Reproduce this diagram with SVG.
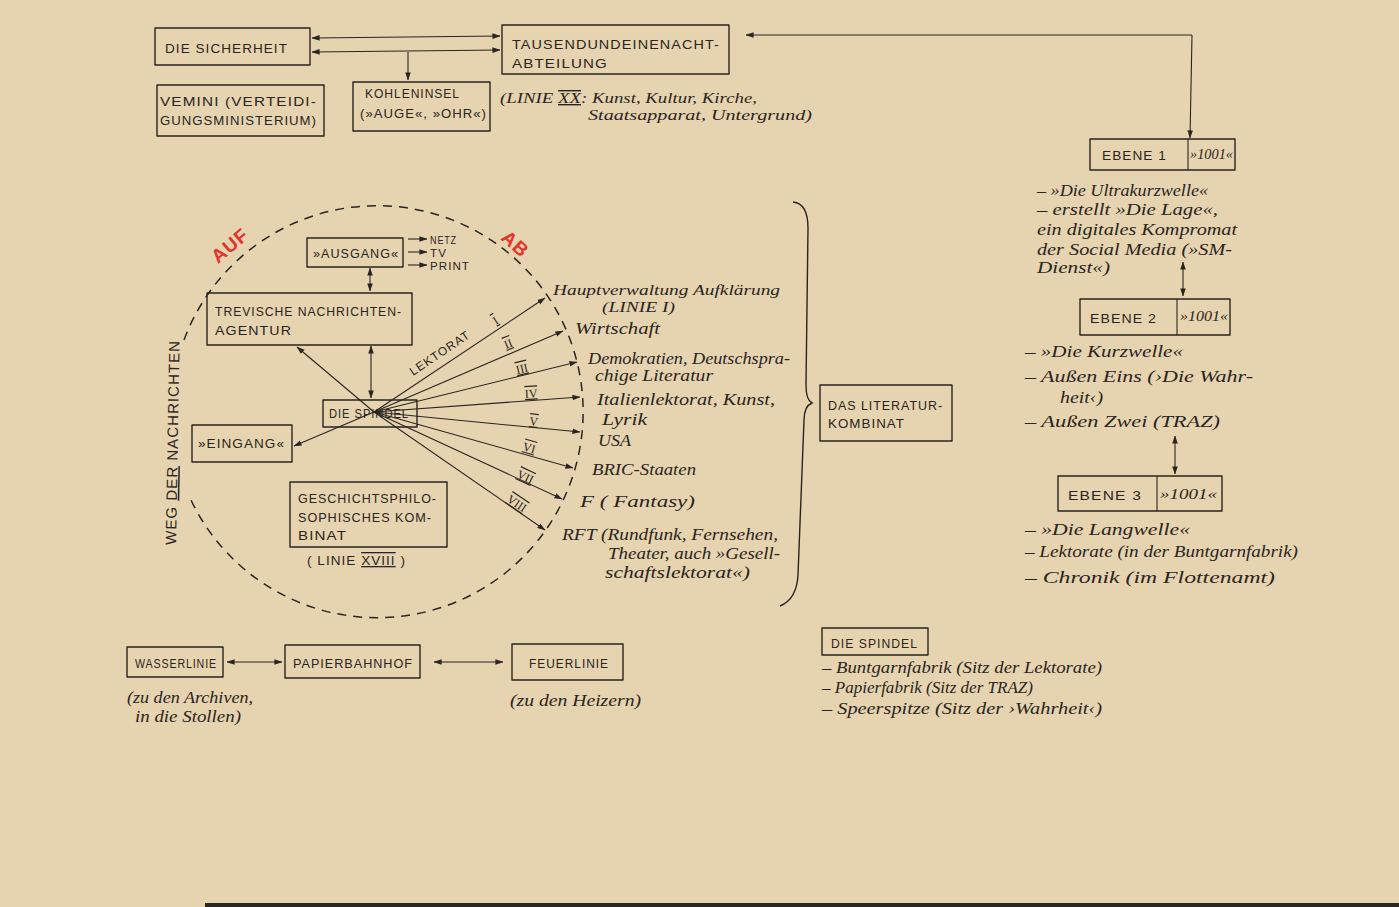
<svg xmlns="http://www.w3.org/2000/svg" width="1399" height="907" viewBox="0 0 1399 907">
<defs>
<style>
.bx{fill:none;stroke:#2a2521;stroke-width:1.4;stroke-linejoin:round}
.ln{fill:none;stroke:#2a2521;stroke-width:1.1}
.cap{font-family:"Liberation Sans",Arial,sans-serif;font-size:13px;fill:#2a2521;letter-spacing:1px}
.scr{font-family:"Liberation Serif","Times New Roman",serif;font-style:italic;font-size:16px;fill:#2a2521}
.rom{font-family:"Liberation Serif",serif;font-size:12px;fill:#2a2521;text-decoration:underline overline}
.red{font-family:"Liberation Sans",Arial,sans-serif;font-weight:bold;font-size:19px;fill:#e3342b;letter-spacing:1px}
.dec{text-decoration:underline overline}
</style>
<marker id="ah" viewBox="0 0 10 7" refX="9.5" refY="3.5" markerWidth="8" markerHeight="6" orient="auto-start-reverse" markerUnits="userSpaceOnUse">
<path d="M0,0 L10,3.5 L0,7 z" fill="#2a2521"/>
</marker>
</defs>
<rect x="0" y="0" width="1399" height="907" fill="#e6d3af"/>
<rect x="205" y="903" width="1194" height="4" fill="#2a2520"/>

<g id="connectors">
<line class="ln" x1="312" y1="38" x2="500" y2="36" marker-start="url(#ah)" marker-end="url(#ah)"/>
<line class="ln" x1="312" y1="52" x2="500" y2="50" marker-start="url(#ah)" marker-end="url(#ah)"/>
<line class="ln" x1="408" y1="52" x2="408" y2="80" marker-end="url(#ah)"/>
<line class="ln" x1="1192" y1="35" x2="746" y2="35" marker-end="url(#ah)"/>
<line class="ln" x1="1192" y1="35" x2="1190" y2="138" marker-end="url(#ah)"/>
<line class="ln" x1="1183" y1="262" x2="1183" y2="296" marker-start="url(#ah)" marker-end="url(#ah)"/>
<line class="ln" x1="1175" y1="436" x2="1175" y2="474" marker-start="url(#ah)" marker-end="url(#ah)"/>
<line class="ln" x1="408" y1="239" x2="427" y2="239" marker-end="url(#ah)"/>
<line class="ln" x1="408" y1="252" x2="427" y2="252" marker-end="url(#ah)"/>
<line class="ln" x1="408" y1="265" x2="427" y2="265" marker-end="url(#ah)"/>
<line class="ln" x1="370" y1="268" x2="370" y2="291" marker-start="url(#ah)" marker-end="url(#ah)"/>
<line class="ln" x1="371" y1="346" x2="371" y2="398" marker-start="url(#ah)" marker-end="url(#ah)"/>
<line class="ln" x1="374" y1="412" x2="297" y2="347" marker-end="url(#ah)"/>
<line class="ln" x1="374" y1="412" x2="294" y2="446" marker-end="url(#ah)"/>
<line class="ln" x1="374" y1="412" x2="545" y2="298" marker-end="url(#ah)"/>
<line class="ln" x1="374" y1="412" x2="563" y2="331" marker-end="url(#ah)"/>
<line class="ln" x1="374" y1="412" x2="577" y2="362" marker-end="url(#ah)"/>
<line class="ln" x1="374" y1="412" x2="580" y2="397" marker-end="url(#ah)"/>
<line class="ln" x1="374" y1="412" x2="580" y2="432" marker-end="url(#ah)"/>
<line class="ln" x1="374" y1="412" x2="573" y2="468" marker-end="url(#ah)"/>
<line class="ln" x1="374" y1="412" x2="562" y2="499" marker-end="url(#ah)"/>
<line class="ln" x1="374" y1="412" x2="545" y2="530" marker-end="url(#ah)"/>
<line class="ln" x1="227" y1="662" x2="282" y2="662" marker-start="url(#ah)" marker-end="url(#ah)"/>
<line class="ln" x1="434" y1="662" x2="503" y2="662" marker-start="url(#ah)" marker-end="url(#ah)"/>
</g>

<g id="weg-der-nachrichten">
<path d="M184,340 A206,206 0 1 1 191,500" fill="none" stroke="#2a2521" stroke-width="1.5" stroke-dasharray="9 7"/>
<text class="cap" transform="translate(176,545) rotate(-89)" textLength="205" lengthAdjust="spacingAndGlyphs" style="font-size:15px">WEG <tspan style="text-decoration:underline">DER</tspan> NACHRICHTEN</text>
<text class="red" transform="translate(218,264) rotate(-40)">AUF</text>
<text class="red" transform="translate(500,239) rotate(42)">AB</text>
</g>

<g id="die-sicherheit">
<rect class="bx" x="155" y="28" width="155" height="37"/>
<text class="cap" x="165" y="53" textLength="123" lengthAdjust="spacingAndGlyphs">DIE SICHERHEIT</text>
</g>
<g id="vemini">
<rect class="bx" x="157" y="85" width="167" height="51"/>
<text class="cap" x="160" y="106" textLength="157" lengthAdjust="spacingAndGlyphs">VEMINI (VERTEIDI-</text>
<text class="cap" x="160" y="125" textLength="157" lengthAdjust="spacingAndGlyphs">GUNGSMINISTERIUM)</text>
</g>
<g id="kohleninsel">
<rect class="bx" x="353" y="82" width="137" height="49"/>
<text class="cap" x="365" y="98" textLength="95" lengthAdjust="spacingAndGlyphs">KOHLENINSEL</text>
<text class="cap" x="360" y="118" textLength="127" lengthAdjust="spacingAndGlyphs">(»AUGE«, »OHR«)</text>
</g>
<g id="tausendundeinenacht">
<rect class="bx" x="502" y="25" width="227" height="49"/>
<text class="cap" x="512" y="49" textLength="208" lengthAdjust="spacingAndGlyphs">TAUSENDUNDEINENACHT-</text>
<text class="cap" x="512" y="68" textLength="96" lengthAdjust="spacingAndGlyphs">ABTEILUNG</text>
<text class="scr" x="500" y="103" textLength="257" lengthAdjust="spacingAndGlyphs" style="font-size:14px">(LINIE <tspan class="dec">XX</tspan>: Kunst, Kultur, Kirche,</text>
<text class="scr" x="588" y="120" textLength="224" lengthAdjust="spacingAndGlyphs" style="font-size:14px">Staatsapparat, Untergrund)</text>
</g>

<g id="ebene1">
<rect class="bx" x="1090" y="139" width="145" height="31"/>
<line class="ln" x1="1188" y1="139" x2="1188" y2="170"/>
<text class="cap" x="1102" y="160" textLength="65" lengthAdjust="spacingAndGlyphs">EBENE 1</text>
<text class="scr" x="1190" y="159" textLength="43" lengthAdjust="spacingAndGlyphs" style="font-size:14px">»1001«</text>
<text class="scr" x="1037" y="196" textLength="171" lengthAdjust="spacingAndGlyphs">– »Die Ultrakurzwelle«</text>
<text class="scr" x="1037" y="215" textLength="181" lengthAdjust="spacingAndGlyphs">– erstellt »Die Lage«,</text>
<text class="scr" x="1037" y="235" textLength="200" lengthAdjust="spacingAndGlyphs">ein digitales Kompromat</text>
<text class="scr" x="1037" y="255" textLength="195" lengthAdjust="spacingAndGlyphs">der Social Media (»SM-</text>
<text class="scr" x="1037" y="273" textLength="73" lengthAdjust="spacingAndGlyphs">Dienst«)</text>
</g>
<g id="ebene2">
<rect class="bx" x="1080" y="299" width="150" height="36"/>
<line class="ln" x1="1177" y1="299" x2="1177" y2="335"/>
<text class="cap" x="1090" y="323" textLength="67" lengthAdjust="spacingAndGlyphs">EBENE 2</text>
<text class="scr" x="1180" y="321" textLength="48" lengthAdjust="spacingAndGlyphs" style="font-size:14px">»1001«</text>
<text class="scr" x="1025" y="357" textLength="158" lengthAdjust="spacingAndGlyphs">– »Die Kurzwelle«</text>
<text class="scr" x="1025" y="382" textLength="228" lengthAdjust="spacingAndGlyphs">– Außen Eins (›Die Wahr-</text>
<text class="scr" x="1060" y="403" textLength="43" lengthAdjust="spacingAndGlyphs">heit‹)</text>
<text class="scr" x="1025" y="427" textLength="195" lengthAdjust="spacingAndGlyphs">– Außen Zwei (TRAZ)</text>
</g>
<g id="ebene3">
<rect class="bx" x="1058" y="476" width="164" height="35"/>
<line class="ln" x1="1157" y1="476" x2="1157" y2="511"/>
<text class="cap" x="1068" y="500" textLength="74" lengthAdjust="spacingAndGlyphs">EBENE 3</text>
<text class="scr" x="1160" y="499" textLength="57" lengthAdjust="spacingAndGlyphs" style="font-size:14px">»1001«</text>
<text class="scr" x="1025" y="535" textLength="165" lengthAdjust="spacingAndGlyphs">– »Die Langwelle«</text>
<text class="scr" x="1025" y="557" textLength="273" lengthAdjust="spacingAndGlyphs">– Lektorate (in der Buntgarnfabrik)</text>
<text class="scr" x="1025" y="583" textLength="250" lengthAdjust="spacingAndGlyphs">– Chronik (im Flottenamt)</text>
</g>

<g id="ausgang">
<rect class="bx" x="307" y="238" width="96" height="29"/>
<text class="cap" x="313" y="258" textLength="86" lengthAdjust="spacingAndGlyphs">»AUSGANG«</text>
<text class="cap" x="430" y="244" textLength="27" lengthAdjust="spacingAndGlyphs" style="font-size:11px">NETZ</text>
<text class="cap" x="430" y="257" textLength="17" lengthAdjust="spacingAndGlyphs" style="font-size:11px">TV</text>
<text class="cap" x="430" y="270" textLength="40" lengthAdjust="spacingAndGlyphs" style="font-size:11px">PRINT</text>
</g>
<g id="trevische">
<rect class="bx" x="207" y="293" width="205" height="52"/>
<text class="cap" x="215" y="316" textLength="187" lengthAdjust="spacingAndGlyphs">TREVISCHE NACHRICHTEN-</text>
<text class="cap" x="215" y="335" textLength="77" lengthAdjust="spacingAndGlyphs">AGENTUR</text>
</g>
<g id="die-spindel">
<rect class="bx" x="323" y="400" width="94" height="27"/>
<text class="cap" x="329" y="418" textLength="80" lengthAdjust="spacingAndGlyphs" style="font-size:12px">DIE SPINDEL</text>
</g>
<g id="eingang">
<rect class="bx" x="192" y="425" width="100" height="37"/>
<text class="cap" x="198" y="448" textLength="87" lengthAdjust="spacingAndGlyphs">»EINGANG«</text>
</g>
<g id="geschichtsphilo">
<rect class="bx" x="290" y="482" width="157" height="65"/>
<text class="cap" x="298" y="503" textLength="139" lengthAdjust="spacingAndGlyphs">GESCHICHTSPHILO-</text>
<text class="cap" x="298" y="522" textLength="134" lengthAdjust="spacingAndGlyphs">SOPHISCHES KOM-</text>
<text class="cap" x="298" y="540" textLength="49" lengthAdjust="spacingAndGlyphs">BINAT</text>
<text class="cap" x="307" y="565" textLength="99" lengthAdjust="spacingAndGlyphs">( LINIE <tspan class="dec">XVIII</tspan> )</text>
</g>

<g id="lektorat">
<text class="cap" transform="translate(413,376) rotate(-34)" textLength="70" lengthAdjust="spacingAndGlyphs" style="font-size:12px">LEKTORAT</text>
<text class="rom" transform="translate(496,325) rotate(-33)">I</text>
<text class="rom" transform="translate(506,349) rotate(-22)">II</text>
<text class="rom" transform="translate(517,374) rotate(-13)">III</text>
<text class="rom" transform="translate(525,398) rotate(-3)">IV</text>
<text class="rom" transform="translate(529,425) rotate(6)">V</text>
<text class="rom" transform="translate(522,450) rotate(16)">VI</text>
<text class="rom" transform="translate(516,477) rotate(25)">VII</text>
<text class="rom" transform="translate(506,501) rotate(34)">VIII</text>
</g>

<g id="lektorate-liste">
<text class="scr" x="553" y="295" textLength="227" lengthAdjust="spacingAndGlyphs" style="font-size:15px">Hauptverwaltung Aufklärung</text>
<text class="scr" x="602" y="312" textLength="73" lengthAdjust="spacingAndGlyphs" style="font-size:14px">(LINIE I)</text>
<text class="scr" x="575" y="334" textLength="85" lengthAdjust="spacingAndGlyphs">Wirtschaft</text>
<text class="scr" x="588" y="364" textLength="202" lengthAdjust="spacingAndGlyphs">Demokratien, Deutschspra-</text>
<text class="scr" x="595" y="381" textLength="118" lengthAdjust="spacingAndGlyphs">chige Literatur</text>
<text class="scr" x="597" y="405" textLength="178" lengthAdjust="spacingAndGlyphs">Italienlektorat, Kunst,</text>
<text class="scr" x="602" y="425" textLength="45" lengthAdjust="spacingAndGlyphs">Lyrik</text>
<text class="scr" x="598" y="446" textLength="33" lengthAdjust="spacingAndGlyphs">USA</text>
<text class="scr" x="592" y="475" textLength="104" lengthAdjust="spacingAndGlyphs">BRIC-Staaten</text>
<text class="scr" x="580" y="507" textLength="115" lengthAdjust="spacingAndGlyphs">F ( Fantasy)</text>
<text class="scr" x="562" y="540" textLength="216" lengthAdjust="spacingAndGlyphs">RFT (Rundfunk, Fernsehen,</text>
<text class="scr" x="608" y="559" textLength="172" lengthAdjust="spacingAndGlyphs">Theater, auch »Gesell-</text>
<text class="scr" x="605" y="578" textLength="145" lengthAdjust="spacingAndGlyphs">schaftslektorat«)</text>
<path class="ln" style="stroke-width:1.4" d="M793,202 C803,203 808,212 808,228 L806,385 C806,396 808,401 812,403 C807,405 804,410 804,420 L798,575 C797,593 790,602 780,606"/>
</g>

<g id="literaturkombinat">
<rect class="bx" x="820" y="385" width="132" height="56"/>
<text class="cap" x="828" y="410" textLength="115" lengthAdjust="spacingAndGlyphs">DAS LITERATUR-</text>
<text class="cap" x="828" y="428" textLength="77" lengthAdjust="spacingAndGlyphs">KOMBINAT</text>
</g>

<g id="wasserlinie">
<rect class="bx" x="127" y="647" width="96" height="30"/>
<text class="cap" x="135" y="668" textLength="82" lengthAdjust="spacingAndGlyphs" style="font-size:12px">WASSERLINIE</text>
<text class="scr" x="127" y="703" textLength="126" lengthAdjust="spacingAndGlyphs">(zu den Archiven,</text>
<text class="scr" x="135" y="722" textLength="106" lengthAdjust="spacingAndGlyphs">in die Stollen)</text>
</g>
<g id="papierbahnhof">
<rect class="bx" x="285" y="645" width="135" height="33"/>
<text class="cap" x="293" y="668" textLength="120" lengthAdjust="spacingAndGlyphs">PAPIERBAHNHOF</text>
</g>
<g id="feuerlinie">
<rect class="bx" x="512" y="644" width="111" height="36"/>
<text class="cap" x="529" y="668" textLength="80" lengthAdjust="spacingAndGlyphs" style="font-size:12px">FEUERLINIE</text>
<text class="scr" x="510" y="706" textLength="131" lengthAdjust="spacingAndGlyphs">(zu den Heizern)</text>
</g>

<g id="die-spindel-liste">
<rect class="bx" x="822" y="628" width="106" height="27"/>
<text class="cap" x="831" y="648" textLength="87" lengthAdjust="spacingAndGlyphs" style="font-size:12px">DIE SPINDEL</text>
<text class="scr" x="822" y="673" textLength="280" lengthAdjust="spacingAndGlyphs">– Buntgarnfabrik (Sitz der Lektorate)</text>
<text class="scr" x="822" y="693" textLength="211" lengthAdjust="spacingAndGlyphs">– Papierfabrik (Sitz der TRAZ)</text>
<text class="scr" x="822" y="714" textLength="280" lengthAdjust="spacingAndGlyphs">– Speerspitze (Sitz der ›Wahrheit‹)</text>
</g>
</svg>
